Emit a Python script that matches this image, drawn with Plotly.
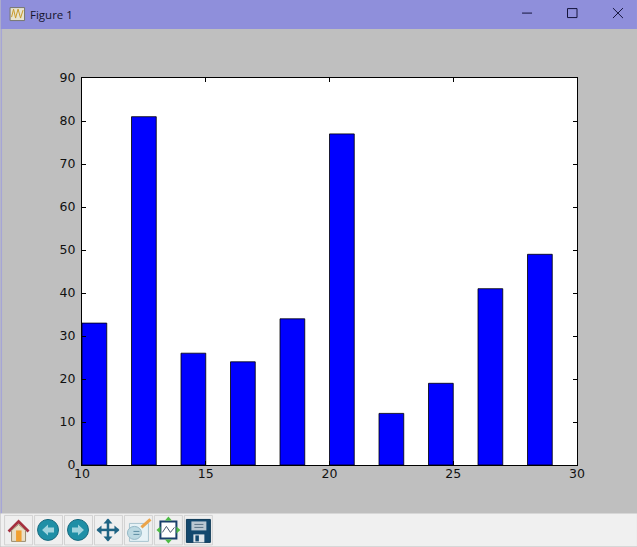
import plotly.graph_objects as go

bar_left_edges = [10, 12, 14, 16, 18, 20, 22, 24, 26, 28]
bar_heights = [33, 81, 26, 24, 34, 77, 12, 19, 41, 49]
x_ticks = [10, 15, 20, 25, 30]
y_ticks = [0, 10, 20, 30, 40, 50, 60, 70, 80, 90]
window_title = "Figure 1"

W, H = 637, 547
L, R, T, B = 81.5, 577.0, 78.0, 465.5


def px(x):
    return (x - L) / (R - L)


def py(y):
    return (B - y) / (B - T)


shapes = []


def rect(x0, y0, x1, y1, fill, line=None, width=1, layer="above"):
    shapes.append(dict(type="rect", xref="paper", yref="paper", x0=px(x0), x1=px(x1), y0=py(y0), y1=py(y1),
                       fillcolor=fill, line=dict(color=line or "rgba(0,0,0,0)", width=width if line else 0), layer=layer))


def seg(x0, y0, x1, y1, color, width=1):
    shapes.append(dict(type="line", xref="paper", yref="paper", x0=px(x0), x1=px(x1), y0=py(y0), y1=py(y1),
                       line=dict(color=color, width=width), layer="above"))


def circle(x0, y0, x1, y1, fill, line=None, width=1):
    shapes.append(dict(type="circle", xref="paper", yref="paper", x0=px(x0), x1=px(x1), y0=py(y0), y1=py(y1),
                       fillcolor=fill, line=dict(color=line or "rgba(0,0,0,0)", width=width if line else 0), layer="above"))


def poly(points, fill, line=None, width=1):
    d = "M " + " L ".join(f"{px(x):.5f},{py(y):.5f}" for x, y in points) + " Z"
    shapes.append(dict(type="path", xref="paper", yref="paper", path=d, fillcolor=fill,
                       line=dict(color=line or "rgba(0,0,0,0)", width=width if line else 0), layer="above"))


# window chrome
rect(0, 0, W, 29, "#8f8fdb", layer="below")
rect(0, 29, 1.5, 514, "#a6a6d6", layer="below")
rect(0, 514, W, H, "#f0f0f0", layer="below")

# title bar icon and buttons
rect(9.5, 7.5, 24, 20.5, "#e8e4d0", "#77776f")
pts = [(11, 17), (13, 9), (15, 18), (17.5, 9), (20, 18), (22.5, 10)]
for (a, b), (c, d) in zip(pts, pts[1:]):
    seg(a, b, c, d, "#c89a2c", 1)
seg(522, 13, 532, 13, "#14143c", 1)
rect(567.5, 8.5, 577, 17.5, "rgba(0,0,0,0)", "#14143c", 1)
seg(613, 8, 623, 18, "#14143c", 1)
seg(623, 8, 613, 18, "#14143c", 1)

# toolbar button frames
for x0 in [4, 34, 64, 94, 124, 154, 184]:
    rect(x0, 516, x0 + 28, 545.5, "#efefef", "#d2d2d2", 1)

# home
poly([(18, 520), (7, 531), (9, 533), (18, 524), (27, 533), (29, 531)], "#a5303f")
poly([(11, 531), (18, 525), (25, 531), (25, 542), (11, 542)], "#eadfc6", "#9a8c70")
rect(15.5, 531, 21, 542, "#f0a030")

# back and forward
for x0, sign in [(37, -1), (67, 1)]:
    circle(x0, 520, x0 + 21, 541, "#1f8fa6", "#17697e")
    cx = x0 + 10.5
    poly([(cx + sign * 6, 530.5), (cx, 525), (cx, 528), (cx - sign * 6, 528),
          (cx - sign * 6, 533), (cx, 533), (cx, 536)], "#9fd4de")

# move
seg(97, 530.5, 118, 530.5, "#1f6484", 2.5)
seg(107.5, 520, 107.5, 541, "#1f6484", 2.5)
poly([(96, 530.5), (101, 526), (101, 535)], "#1f6484")
poly([(119, 530.5), (114, 526), (114, 535)], "#1f6484")
poly([(107.5, 519), (103, 524), (112, 524)], "#1f6484")
poly([(107.5, 542), (103, 537), (112, 537)], "#1f6484")

# edit
rect(129, 524, 148, 542, "#e6f2f6", "#a9c4cf")
circle(127, 527, 141, 540, "#bcd9e2", "#94b8c6")
seg(133, 532, 139, 532, "#5d8da3", 1)
seg(133, 535, 139, 535, "#5d8da3", 1)
seg(141, 528, 150, 520, "#eba44a", 3)

# subplot configuration
rect(160, 522, 176, 539, "#ffffff", "#18406a", 2)
pts = [(162, 533), (166, 527), (170, 533), (174, 528)]
for (a, b), (c, d) in zip(pts, pts[1:]):
    seg(a, b, c, d, "#4a5a70", 1)
poly([(168, 517), (164.5, 521), (171.5, 521)], "#4dbb44")
poly([(168, 544), (164.5, 540), (171.5, 540)], "#4dbb44")
poly([(156, 530.5), (160, 527), (160, 534)], "#4dbb44")
poly([(180, 530.5), (176, 527), (176, 534)], "#4dbb44")

# save
rect(186, 520, 210, 543, "#12486e", "#0e3a58")
rect(191, 522, 206, 531, "#b9c7d2")
seg(194, 525, 203, 525, "#5a7386", 1)
seg(194, 528, 203, 528, "#5a7386", 1)
rect(193, 535, 204, 543, "#dfe5ea")
rect(195, 536, 198.5, 542, "#12486e")

fig = go.Figure(
    go.Bar(
        x=bar_left_edges,
        y=bar_heights,
        width=1,
        offset=0,
        marker=dict(color="#0000ff", line=dict(color="#000000", width=0.8)),
    )
)

axis = dict(
    showgrid=False, zeroline=False, showline=True, linecolor="#000000", linewidth=1.2,
    mirror="allticks", ticks="inside", ticklen=4, tickcolor="#000000", tickwidth=0.8,
    tickfont=dict(family="DejaVu Sans", size=12.5, color="#111111"),
)

fig.update_layout(
    width=W, height=H, autosize=False,
    margin=dict(l=L, r=W - R, t=T, b=H - B, pad=0),
    paper_bgcolor="#bfbfbf", plot_bgcolor="#ffffff",
    showlegend=False, shapes=shapes, hovermode=False,
    xaxis=dict(axis, range=[10, 30], tickvals=x_ticks, ticktext=[str(v) for v in x_ticks], ticklabelstandoff=-3),
    yaxis=dict(axis, range=[0, 90], tickvals=y_ticks, ticktext=[str(v) for v in y_ticks], ticklabelstandoff=3),
    annotations=[dict(text=window_title, xref="paper", yref="paper", x=px(27.5), y=py(14.5),
                      xanchor="left", yanchor="middle", showarrow=False,
                      font=dict(family="Open Sans", size=11.5, color="#15152e"))],
)

fig.write_html(
    "out.html",
    config=dict(displayModeBar=False),
    post_script="document.body.style.margin='0';document.body.style.background='#bfbfbf';",
)
